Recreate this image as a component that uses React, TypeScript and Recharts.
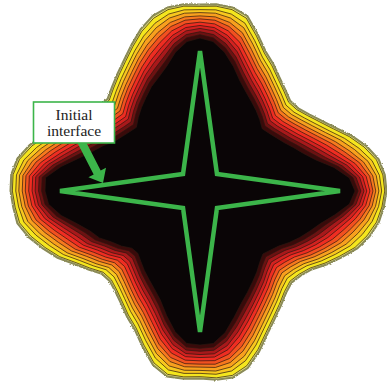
import React from 'react'
import { RadarChart, Radar, PolarAngleAxis, PolarRadiusAxis } from 'recharts'

// sampling directions in degrees (counter-clockwise from +x), listed clockwise from the top
const directions = [
  90, 85, 80, 75, 70, 65, 60, 55, 50, 45, 40, 35, 30, 25, 20, 15, 10, 5, 0,
  -5, -10, -15, -20, -25, -30, -35, -40, -45, -50, -55, -60, -65, -70, -75, -80, -85, -90,
  265, 260, 255, 250, 245, 240, 235, 230, 225, 220, 215, 210, 205, 200, 195, 190, 185, 180,
  175, 170, 165, 160, 155, 150, 145, 140, 135, 130, 125, 120, 115, 110, 105, 100, 95,
]

// radius of the outermost front along each direction
const outerFront = [
  186, 187, 186, 181, 167, 154, 146, 138, 132, 127, 128, 133, 140, 149, 161, 172, 181, 185, 186,
  184, 181, 175, 167, 156, 146, 136, 131, 129, 133, 140, 148, 158, 171, 183, 189, 189, 187,
  188, 188, 180, 166, 153, 145, 137, 131, 127, 128, 136, 145, 157, 167, 177, 185, 187, 189,
  189, 185, 176, 165, 153, 142, 136, 132, 130, 136, 143, 151, 161, 172, 181, 186, 187,
]

// radius of the dark core along each direction
const innerCore = [
  153, 150, 141, 129, 117, 109, 103, 98, 93, 88, 90, 93, 97, 103, 110, 120, 136, 150, 155,
  150, 137, 125, 117, 110, 103, 96, 92, 89, 93, 99, 105, 112, 120, 131, 144, 153, 154,
  153, 143, 129, 116, 108, 102, 97, 92, 88, 89, 96, 102, 111, 117, 127, 141, 152, 155,
  155, 141, 126, 115, 107, 99, 95, 92, 90, 96, 102, 108, 115, 121, 129, 141, 150,
]

// contour levels between core (0) and outer front (1), outside in
const levels = [1, 0.96, 0.86, 0.77, 0.67, 0.58, 0.48, 0.38, 0.29, 0.19, 0.1, 0]
const bandColors = [
  '#e9e76e', '#f4e61e', '#f8c71e', '#f8a01e', '#f7791e', '#f25020',
  '#ef2d22', '#d32220', '#a8191b', '#6c1212', '#3a0a0a', '#0a0506',
]

// initial interface: four-pointed star, tips and inner corners every 45 degrees
const starDirections = ['N', 'NE', 'E', 'SE', 'S', 'SW', 'W', 'NW']
const starRadius = [140, 24, 140, 24, 141, 24, 140, 24]

const W = 387
const H = 382
const CX = 200
const CY = 191
const R = 200

const contourData = directions.map((dir, i) => {
  const row: Record<string, number> = { dir }
  levels.forEach((f, k) => {
    row['l' + k] = innerCore[i] + (outerFront[i] - innerCore[i]) * f
  })
  return row
})

const starData = starDirections.map((dir, i) => ({ dir, r: starRadius[i] }))

const GREEN = '#3cb54a'
const labelStyle: React.CSSProperties = {
  fontFamily: "'Liberation Serif', 'Times New Roman', serif",
  fontSize: 15.5,
}

const layer: React.CSSProperties = { position: 'absolute', left: 0, top: 0 }

export default function App() {
  return (
    <div style={{ position: 'absolute', left: 0, top: 0, width: W, height: H, overflow: 'hidden', background: '#fff' }}>
      <svg width={0} height={0} style={{ position: 'absolute' }}>
        <defs>
          {/* ragged outline of the outermost front */}
          <filter id='rough' x='-5%' y='-5%' width='110%' height='110%'>
            <feTurbulence type='fractalNoise' baseFrequency='0.9' numOctaves={2} seed={3} result='noise' />
            <feDisplacementMap in='SourceGraphic' in2='noise' scale={2.5} xChannelSelector='R' yChannelSelector='G' />
          </filter>
        </defs>
      </svg>
      <div style={layer}>
        <RadarChart width={W} height={H} cx={CX} cy={CY} outerRadius={R} data={contourData} margin={{ top: 0, right: 0, bottom: 0, left: 0 }}>
          <PolarAngleAxis dataKey='dir' tick={false} axisLine={false} tickLine={false} />
          <PolarRadiusAxis type='number' domain={[0, R]} tick={false} axisLine={false} tickLine={false} />
          <Radar
            dataKey='l0'
            fill='none'
            fillOpacity={0}
            stroke='#8a8a55'
            strokeWidth={3}
            filter='url(#rough)'
            isAnimationActive={false}
          />
          {levels.map((_, k) => (
            <Radar
              key={k}
              dataKey={'l' + k}
              fill={bandColors[k]}
              fillOpacity={1}
              stroke={k === 0 ? '#8a8a5c' : '#2b1710'}
              strokeWidth={k === 0 ? 1.2 : 0.7}
              isAnimationActive={false}
            />
          ))}
        </RadarChart>
      </div>
      <div style={layer}>
        <RadarChart width={W} height={H} cx={CX} cy={CY} outerRadius={R} data={starData} margin={{ top: 0, right: 0, bottom: 0, left: 0 }}>
          <PolarAngleAxis dataKey='dir' tick={false} axisLine={false} tickLine={false} />
          <PolarRadiusAxis type='number' domain={[0, R]} tick={false} axisLine={false} tickLine={false} />
          <Radar dataKey='r' fill='none' fillOpacity={0} stroke={GREEN} strokeWidth={4.5} isAnimationActive={false} />
        </RadarChart>
      </div>
      <svg style={layer} width={W} height={H}>
        <polygon
          points='84.5,139 77.5,143 93.7,174.4 88.4,177.3 103,183 106,167.7 100.7,170.6'
          fill={GREEN}
        />
        <rect x={33.5} y={102} width={81} height={41} fill='#fff' stroke={GREEN} strokeWidth={1.6} />
        <text x={74} y={120} textAnchor='middle' style={labelStyle} fill='#222'>
          Initial
        </text>
        <text x={74} y={136} textAnchor='middle' style={labelStyle} fill='#222'>
          interface
        </text>
      </svg>
    </div>
  )
}
